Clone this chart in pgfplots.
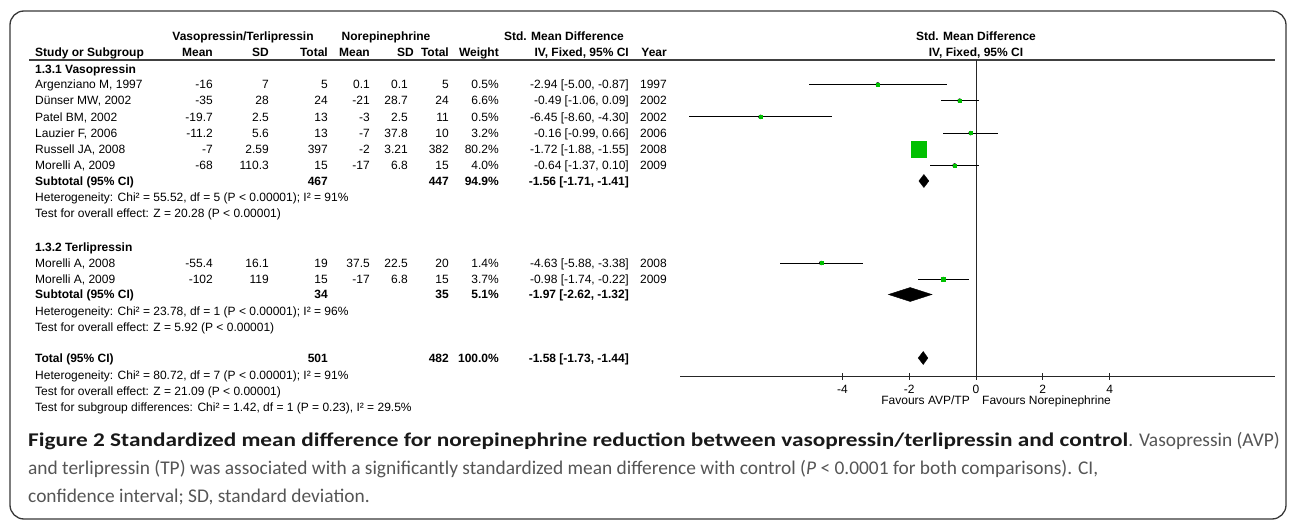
\documentclass[border=0pt]{standalone}
\usepackage{fontspec}
\setmainfont{Liberation Sans}
\newfontfamily\capfont{Carlito}
\newfontfamily\capboldfont{Carlito}[FakeStretch=1.2]
\usepackage{pgfplots}
\usepackage{pgfplotstable}
\pgfplotsset{compat=1.18}

\definecolor{fpgreen}{RGB}{0,192,0}
\definecolor{framegray}{RGB}{55,55,55}
\definecolor{capgray}{RGB}{85,85,85}

\newcommand\tf{\fontsize{12bp}{14bp}\selectfont}
% y is given in pixels from the top
\newcommand\R[3]{\node[anchor=base east] at (#1,-#2) {#3};}
\newcommand\Lt[3]{\node[anchor=base west] at (#1,-#2) {#3};}
\newcommand\C[3]{\node[anchor=base] at (#1,-#2) {#3};}
% study row: baseline, name, mean1, sd1, n1, mean2, sd2, n2, weight
\newcommand\srow[9]{\Lt{35}{#1}{#2}\R{213}{#1}{#3}\R{269}{#1}{#4}\R{328}{#1}{#5}%
  \R{370}{#1}{#6}\R{408}{#1}{#7}\R{449}{#1}{#8}\R{499}{#1}{#9}}

% forest rows: row = pixel row from top, est, lower, upper, marker half size
\pgfplotstableread{
row   est   lo    hi    ms
84.5  -2.94 -5.00 -0.87 1.4
100.7 -0.49 -1.06 0.09  1.9
116.9 -6.45 -8.60 -4.30 1.4
133.1 -0.16 -0.99 0.66  1.6
149.3 -1.72 -1.88 -1.55 7.8
165.5 -0.64 -1.37 0.10  1.7
263   -4.63 -5.88 -3.38 1.5
279   -0.98 -1.74 -0.22 1.8
}\studies

\begin{document}
\begin{tikzpicture}[x=1bp, y=1bp, every node/.style={font=\tf, inner sep=0pt}]
\useasboundingbox (0,0) rectangle (1290,-521);
\draw[framegray, line width=1.3bp, rounded corners=14bp] (10,-11) rectangle (1286,-519);

% header
\draw[black!75, line width=1.2bp] (29,-60) -- (1275,-60);
\begin{scope}[every node/.style={font=\tf\bfseries, inner sep=0pt}]
\C{243}{40.3}{Vasopressin/Terlipressin}
\C{386}{40.3}{Norepinephrine}
\C{564}{40.3}{Std. Mean Difference}
\C{976}{40.3}{Std. Mean Difference}
\C{976}{56.3}{IV, Fixed, 95\% CI}
\Lt{35}{56.3}{Study or Subgroup}
\R{213}{56.3}{Mean}\R{269}{56.3}{SD}\R{328}{56.3}{Total}
\R{370}{56.3}{Mean}\R{414}{56.3}{SD}\R{449}{56.3}{Total}
\R{499}{56.3}{Weight}\R{629}{56.3}{IV, Fixed, 95\% CI}\R{667}{56.3}{Year}
\Lt{35}{73.5}{1.3.1 Vasopressin}
\Lt{35}{185.3}{Subtotal (95\% CI)}\R{328}{185.3}{467}\R{449}{185.3}{447}
\R{499}{185.3}{94.9\%}\R{629}{185.3}{-1.56 [-1.71, -1.41]}
\Lt{35}{251.3}{1.3.2 Terlipressin}
\Lt{35}{298.8}{Subtotal (95\% CI)}\R{328}{298.8}{34}\R{449}{298.8}{35}
\R{499}{298.8}{5.1\%}\R{629}{298.8}{-1.97 [-2.62, -1.32]}
\Lt{35}{362.3}{Total (95\% CI)}\R{328}{362.3}{501}\R{449}{362.3}{482}
\R{499}{362.3}{100.0\%}\R{629}{362.3}{-1.58 [-1.73, -1.44]}
\end{scope}

% studies
\srow{88.8}{Argenziano M, 1997}{-16}{7}{5}{0.1}{0.1}{5}{0.5\%}
\R{629}{88.8}{-2.94 [-5.00, -0.87]}\R{667}{88.8}{1997}
\srow{105}{Dünser MW, 2002}{-35}{28}{24}{-21}{28.7}{24}{6.6\%}
\R{629}{105}{-0.49 [-1.06, 0.09]}\R{667}{105}{2002}
\srow{121.2}{Patel BM, 2002}{-19.7}{2.5}{13}{-3}{2.5}{11}{0.5\%}
\R{629}{121.2}{-6.45 [-8.60, -4.30]}\R{667}{121.2}{2002}
\srow{137.4}{Lauzier F, 2006}{-11.2}{5.6}{13}{-7}{37.8}{10}{3.2\%}
\R{629}{137.4}{-0.16 [-0.99, 0.66]}\R{667}{137.4}{2006}
\srow{153.6}{Russell JA, 2008}{-7}{2.59}{397}{-2}{3.21}{382}{80.2\%}
\R{629}{153.6}{-1.72 [-1.88, -1.55]}\R{667}{153.6}{2008}
\srow{169.8}{Morelli A, 2009}{-68}{110.3}{15}{-17}{6.8}{15}{4.0\%}
\R{629}{169.8}{-0.64 [-1.37, 0.10]}\R{667}{169.8}{2009}
\Lt{35}{201.5}{Heterogeneity: Chi² = 55.52, df = 5 (P < 0.00001); I² = 91\%}
\Lt{35}{217.8}{Test for overall effect: Z = 20.28 (P < 0.00001)}

\srow{267.3}{Morelli A, 2008}{-55.4}{16.1}{19}{37.5}{22.5}{20}{1.4\%}
\R{629}{267.3}{-4.63 [-5.88, -3.38]}\R{667}{267.3}{2008}
\srow{283.3}{Morelli A, 2009}{-102}{119}{15}{-17}{6.8}{15}{3.7\%}
\R{629}{283.3}{-0.98 [-1.74, -0.22]}\R{667}{283.3}{2009}
\Lt{35}{315.3}{Heterogeneity: Chi² = 23.78, df = 1 (P < 0.00001); I² = 96\%}
\Lt{35}{331.3}{Test for overall effect: Z = 5.92 (P < 0.00001)}

\Lt{35}{379.3}{Heterogeneity: Chi² = 80.72, df = 7 (P < 0.00001); I² = 91\%}
\Lt{35}{395.3}{Test for overall effect: Z = 21.09 (P < 0.00001)}
\Lt{35}{411.3}{Test for subgroup differences: Chi² = 1.42, df = 1 (P = 0.23), I² = 29.5\%}

% forest plot
\begin{axis}[
    at={(680bp,-376bp)}, anchor=south west,
    scale only axis, width=595bp, height=316bp,
    xmin=-8.86, xmax=8.95, ymin=-376, ymax=-60,
    axis x line=bottom, axis y line=none,
    x axis line style={-, black!85, line width=0.9bp},
    xtick={-4,-2,0,2,4}, xticklabels={-4,-2,0,2,4},
    tick align=center, major tick length=7bp,
    x tick style={black!85, line width=0.9bp},
    xticklabel style={font=\tf, inner sep=0pt, anchor=north, yshift=-5.5bp},
    clip=false,
]
\addplot[black!85, line width=0.9bp] coordinates {(0,-60) (0,-376)};
\addplot[only marks, mark=none, error bars/.cd, x dir=both, x explicit,
    error mark=none, error bar style={black, line width=1bp}]
    table[x=est, y expr=-\thisrow{row},
          x error plus expr=\thisrow{hi}-\thisrow{est},
          x error minus expr=\thisrow{est}-\thisrow{lo}] {\studies};
\addplot[scatter, only marks, mark=square*,
    scatter/use mapped color={draw=fpgreen, fill=fpgreen},
    visualization depends on={\thisrow{ms} \as \msz},
    scatter/@pre marker code/.append style={/tikz/mark size=\msz bp}]
    table[x=est, y expr=-\thisrow{row}] {\studies};
% pooled diamonds
\addplot[fill=black, draw=black] coordinates {(-1.71,-181) (-1.56,-174.5) (-1.41,-181) (-1.56,-187.5)} --cycle;
\addplot[fill=black, draw=black] coordinates {(-2.62,-294.5) (-1.97,-287.5) (-1.32,-294.5) (-1.97,-301.5)} --cycle;
\addplot[fill=black, draw=black] coordinates {(-1.73,-358) (-1.58,-351.5) (-1.44,-358) (-1.58,-364.5)} --cycle;
\end{axis}
\R{970}{404.3}{Favours AVP/TP}
\Lt{982}{404.3}{Favours Norepinephrine}

% caption
\begin{scope}[every node/.style={font=\capfont\fontsize{19.4bp}{23bp}\selectfont, inner sep=0pt, text=capgray}]
\Lt{28}{446}{\textcolor{black!90}{\capboldfont\bfseries Figure 2 Standardized mean difference for norepinephrine reduction between vasopressin/terlipressin and control}. Vasopressin (AVP)}
\Lt{28}{474.5}{and terlipressin (TP) was associated with a significantly standardized mean difference with control (\textit{P} < 0.0001 for both comparisons). CI,}
\Lt{28}{502.5}{confidence interval; SD, standard deviation.}
\end{scope}
\end{tikzpicture}
\end{document}
